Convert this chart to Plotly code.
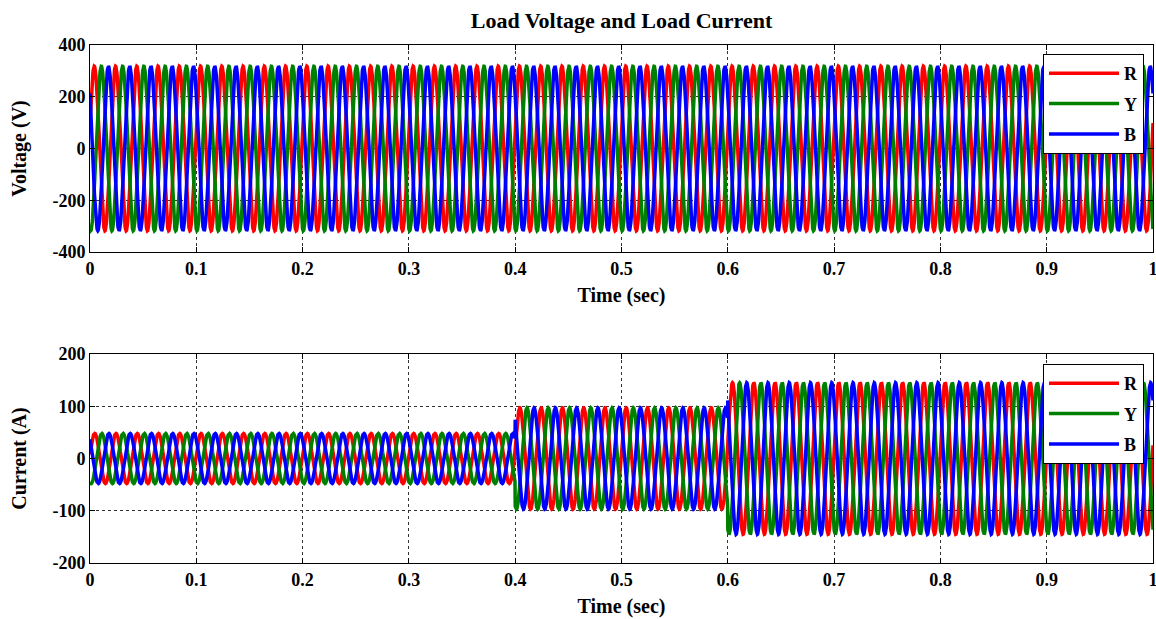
import numpy as np
import plotly.graph_objects as go

# ---------------- data ----------------
FREQ_HZ = 50
T_END = 1.0
DT = 0.0002
phase_names = ["R", "Y", "B"]
phase_colors = ["#FF0000", "#008000", "#0000FF"]
phase_shift_deg = [0, -120, 120]

voltage_peak = 318
voltage_angle_deg = 18

current_breaks = [0.0, 0.4, 0.6, 1.0]
current_peaks = [48, 97, 145]
current_angle_deg = 10

x_ticks = [0, 0.1, 0.2, 0.3, 0.4, 0.5, 0.6, 0.7, 0.8, 0.9, 1.0]
x_tick_labels = ["0", "0.1", "0.2", "0.3", "0.4", "0.5", "0.6", "0.7", "0.8", "0.9", "1"]
v_ticks = [-400, -200, 0, 200, 400]
i_ticks = [-200, -100, 0, 100, 200]

# ---------------- waveforms ----------------
t = np.arange(0, T_END + DT / 2, DT)
w = 2 * np.pi * FREQ_HZ
amp_i = np.zeros_like(t)
for k, pk in enumerate(current_peaks):
    lo, hi = current_breaks[k], current_breaks[k + 1]
    mask = (t >= lo) & (t <= hi) if k == len(current_peaks) - 1 else (t >= lo) & (t < hi)
    amp_i[mask] = pk

FONT = "Liberation Serif, Times New Roman, serif"

fig = go.Figure()
for name, col, sh in zip(phase_names, phase_colors, phase_shift_deg):
    v = voltage_peak * np.sin(w * t + np.deg2rad(voltage_angle_deg + sh))
    fig.add_trace(go.Scatter(x=t, y=v, mode="lines", name=f"<b>{name}</b>",
                             line=dict(color=col, width=3.5), xaxis="x", yaxis="y",
                             legend="legend", legendgroup="v" + name))
for name, col, sh in zip(phase_names, phase_colors, phase_shift_deg):
    i = amp_i * np.sin(w * t + np.deg2rad(current_angle_deg + sh))
    fig.add_trace(go.Scatter(x=t, y=i, mode="lines", name=f"<b>{name}</b>",
                             line=dict(color=col, width=3.5), xaxis="x2", yaxis="y2",
                             legend="legend2", legendgroup="i" + name))

W, H = 1156, 619
L, R, T, B = 90, 3, 45, 56
plot_h = H - T - B
top_dom = [(563 - 252) / plot_h, 1.0]
bot_dom = [0.0, (563 - 354) / plot_h]

tickfont = dict(family=FONT, size=18, color="black")
titlefont = dict(family=FONT, size=20, color="black")

common_x = dict(range=[0, 1], tickvals=x_ticks, ticktext=[f"<b>{s}</b>" for s in x_tick_labels],
                showline=True, linecolor="black", linewidth=1, mirror="ticks",
                ticks="inside", ticklen=5, tickcolor="black",
                showgrid=True, gridcolor="#333", griddash="dot", gridwidth=1,
                zeroline=False, tickfont=tickfont, automargin=False,
                ticklabeloverflow="allow")
common_y = dict(showline=True, linecolor="black", linewidth=1, mirror="ticks",
                ticks="inside", ticklen=5, tickcolor="black",
                showgrid=True, gridcolor="#333", griddash="dot", gridwidth=1,
                zeroline=False, tickfont=tickfont, automargin=False)

leg = dict(bgcolor="white", bordercolor="black", borderwidth=1,
           font=dict(family=FONT, size=18, color="black"),
           xanchor="right", yanchor="top", itemwidth=70, tracegroupgap=4,
           xref="paper", yref="paper")

fig.update_layout(
    width=W, height=H,
    margin=dict(l=L, r=R, t=T, b=B),
    paper_bgcolor="white", plot_bgcolor="white",
    title=dict(text="<b>Load Voltage and Load Current</b>", x=0.5, xref="paper",
               y=1 - 20 / H, yref="container", yanchor="middle",
               font=dict(family=FONT, size=22, color="black")),
    xaxis=dict(domain=[0, 1], anchor="y",
               title=dict(text="<b>Time (sec)</b>", font=titlefont, standoff=10), **common_x),
    yaxis=dict(domain=top_dom, anchor="x", range=[-400, 400], tickvals=v_ticks,
               ticktext=[f"<b>{v}</b>" for v in v_ticks],
               title=dict(text="<b>Voltage (V)</b>", font=titlefont, standoff=20), **common_y),
    xaxis2=dict(domain=[0, 1], anchor="y2",
                title=dict(text="<b>Time (sec)</b>", font=titlefont, standoff=10), **common_x),
    yaxis2=dict(domain=bot_dom, anchor="x2", range=[-200, 200], tickvals=i_ticks,
                ticktext=[f"<b>{v}</b>" for v in i_ticks],
                title=dict(text="<b>Current (A)</b>", font=titlefont, standoff=20), **common_y),
    legend=dict(x=(1144 - L) / (W - L - R), y=(563 - 54) / plot_h, **leg),
    legend2=dict(x=(1144 - L) / (W - L - R), y=(563 - 364) / plot_h, **leg),
    showlegend=True,
)

fig.write_html("out.html", config={"displayModeBar": False},
               post_script="document.body.style.margin='0';")
